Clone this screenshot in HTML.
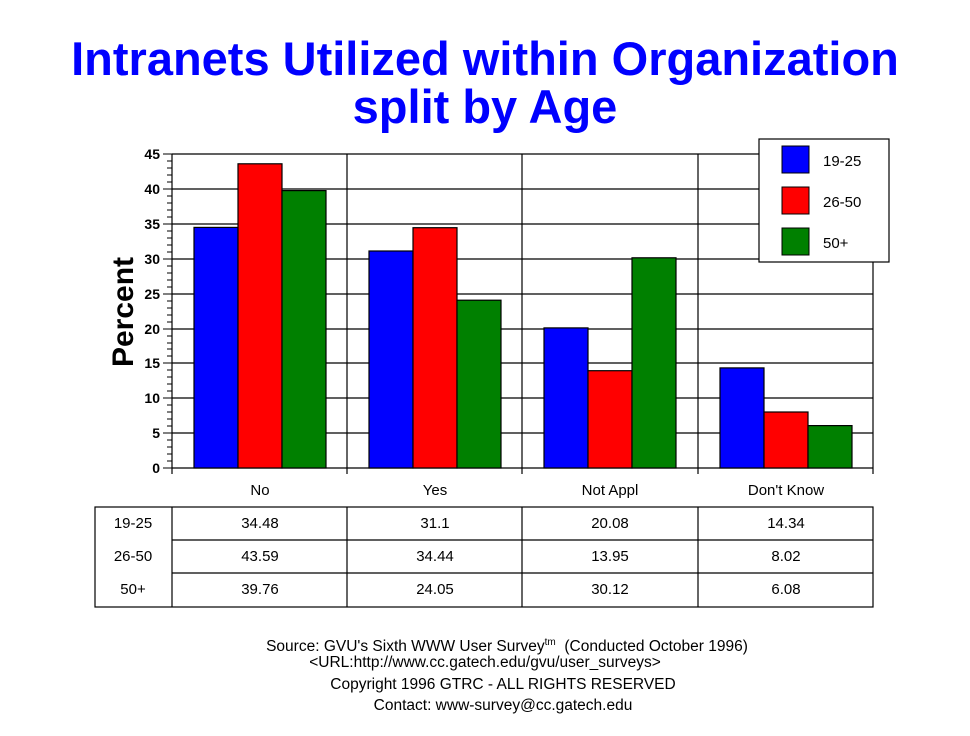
<!DOCTYPE html>
<html><head><meta charset="utf-8"><style>
body{margin:0;background:#fff;}
svg{display:block;font-family:"Liberation Sans",Arial,sans-serif;}
</style></head><body>
<svg width="970" height="736" viewBox="0 0 970 736">
<rect width="970" height="736" fill="#fff"/>
<g fill="#0000ff" font-weight="bold" font-size="47" text-anchor="middle">
<text x="485" y="75">Intranets Utilized within Organization</text>
<text x="485" y="123">split by Age</text>
</g>
<g stroke="#000" stroke-width="1.2">
<line x1="172" y1="154" x2="873" y2="154"/>
<line x1="172" y1="189" x2="873" y2="189"/>
<line x1="172" y1="224" x2="873" y2="224"/>
<line x1="172" y1="259" x2="873" y2="259"/>
<line x1="172" y1="294" x2="873" y2="294"/>
<line x1="172" y1="329" x2="873" y2="329"/>
<line x1="172" y1="363" x2="873" y2="363"/>
<line x1="172" y1="398" x2="873" y2="398"/>
<line x1="172" y1="433" x2="873" y2="433"/>
<line x1="172" y1="468" x2="873" y2="468"/>
<line x1="172" y1="154" x2="172" y2="474"/>
<line x1="347" y1="154" x2="347" y2="474"/>
<line x1="522" y1="154" x2="522" y2="474"/>
<line x1="698" y1="154" x2="698" y2="474"/>
<line x1="873" y1="154" x2="873" y2="474"/>
</g>
<g stroke="#000" stroke-width="1">
<path d="M163 154H172M163 189H172M163 224H172M163 259H172M163 294H172M163 329H172M163 363H172M163 398H172M163 433H172M163 468H172"/>
<path d="M167 161H172M167 168H172M167 175H172M167 182H172M167 196H172M167 203H172M167 210H172M167 217H172M167 231H172M167 238H172M167 245H172M167 252H172M167 266H172M167 273H172M167 280H172M167 287H172M167 301H172M167 308H172M167 315H172M167 322H172M167 336H172M167 343H172M167 349H172M167 356H172M167 370H172M167 377H172M167 384H172M167 391H172M167 405H172M167 412H172M167 419H172M167 426H172M167 440H172M167 447H172M167 454H172M167 461H172"/>
</g>
<g font-size="14" font-weight="bold" text-anchor="end">
<text x="160" y="159">45</text><text x="160" y="194">40</text><text x="160" y="229">35</text><text x="160" y="264">30</text><text x="160" y="299">25</text><text x="160" y="334">20</text><text x="160" y="368">15</text><text x="160" y="403">10</text><text x="160" y="438">5</text><text x="160" y="473">0</text>
</g>
<text transform="translate(133,312) rotate(-90)" font-size="30" font-weight="bold" text-anchor="middle">Percent</text>
<g stroke="#000" stroke-width="1.2">
<rect x="194" y="227.4" width="44" height="240.6" fill="#0000ff"/>
<rect x="238" y="163.8" width="44" height="304.2" fill="#ff0000"/>
<rect x="282" y="190.6" width="44" height="277.4" fill="#008000"/>
<rect x="369" y="251" width="44" height="217" fill="#0000ff"/>
<rect x="413" y="227.7" width="44" height="240.3" fill="#ff0000"/>
<rect x="457" y="300.2" width="44" height="167.8" fill="#008000"/>
<rect x="544" y="327.9" width="44" height="140.1" fill="#0000ff"/>
<rect x="588" y="370.7" width="44" height="97.3" fill="#ff0000"/>
<rect x="632" y="257.8" width="44" height="210.2" fill="#008000"/>
<rect x="720" y="367.9" width="44" height="100.1" fill="#0000ff"/>
<rect x="764" y="412" width="44" height="56" fill="#ff0000"/>
<rect x="808" y="425.6" width="44" height="42.4" fill="#008000"/>
</g>
<rect x="759" y="139" width="130" height="123" fill="#fff" stroke="#000" stroke-width="1.2"/>
<g stroke="#000" stroke-width="1">
<rect x="782" y="146" width="27" height="27" fill="#0000ff"/>
<rect x="782" y="187" width="27" height="27" fill="#ff0000"/>
<rect x="782" y="228" width="27" height="27" fill="#008000"/>
</g>
<g font-size="15">
<text x="823" y="166">19-25</text><text x="823" y="207">26-50</text><text x="823" y="248">50+</text>
</g>
<g font-size="15" text-anchor="middle">
<text x="260" y="495">No</text><text x="435" y="495">Yes</text><text x="610" y="495">Not Appl</text><text x="786" y="495">Don't Know</text>
</g>
<g stroke="#000" stroke-width="1.2" fill="none">
<rect x="95" y="507" width="778" height="100"/>
<line x1="172" y1="507" x2="172" y2="607"/>
<line x1="347" y1="507" x2="347" y2="607"/>
<line x1="522" y1="507" x2="522" y2="607"/>
<line x1="698" y1="507" x2="698" y2="607"/>
<line x1="172" y1="540" x2="873" y2="540"/>
<line x1="172" y1="573" x2="873" y2="573"/>
</g>
<g font-size="15" text-anchor="middle">
<text x="133" y="528">19-25</text><text x="133" y="561">26-50</text><text x="133" y="594">50+</text>
<text x="260" y="528">34.48</text><text x="435" y="528">31.1</text><text x="610" y="528">20.08</text><text x="786" y="528">14.34</text>
<text x="260" y="561">43.59</text><text x="435" y="561">34.44</text><text x="610" y="561">13.95</text><text x="786" y="561">8.02</text>
<text x="260" y="594">39.76</text><text x="435" y="594">24.05</text><text x="610" y="594">30.12</text><text x="786" y="594">6.08</text>
</g>
<g font-size="15.5" text-anchor="middle">
<text x="507" y="651" xml:space="preserve">Source: GVU's Sixth WWW User Survey<tspan font-size="10" dy="-6">tm</tspan><tspan dy="6">  (Conducted October 1996)</tspan></text>
<text x="485" y="667">&lt;URL:http://www.cc.gatech.edu/gvu/user_surveys&gt;</text>
<text x="503" y="689">Copyright 1996 GTRC -  ALL RIGHTS RESERVED</text>
<text x="503" y="710">Contact: www-survey@cc.gatech.edu</text>
</g>
</svg>
</body></html>
